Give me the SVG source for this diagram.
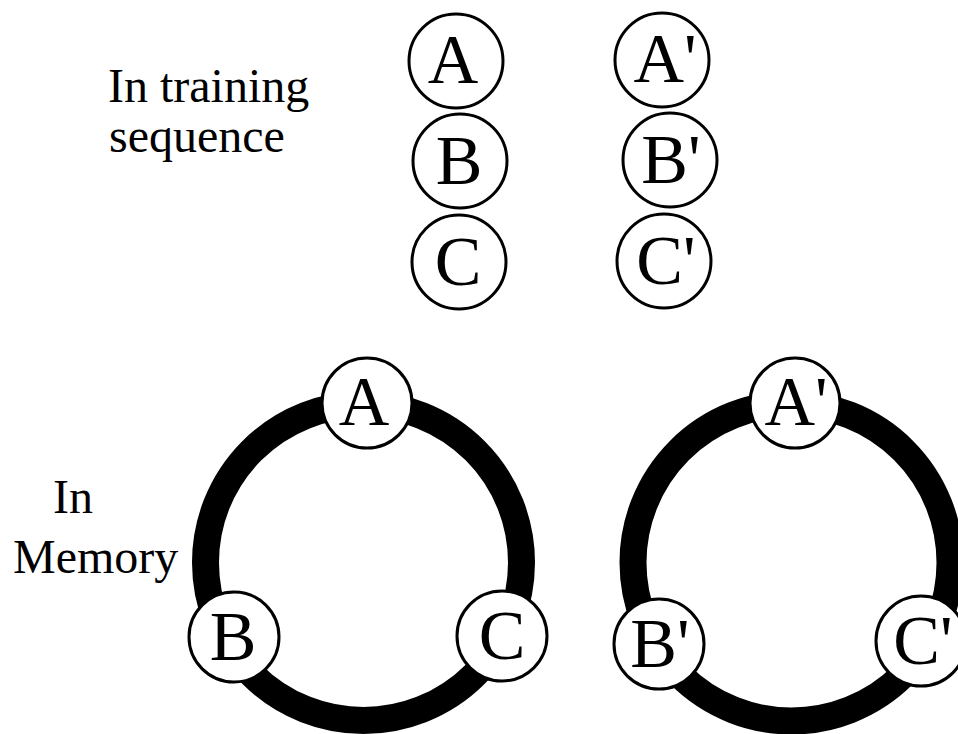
<svg xmlns="http://www.w3.org/2000/svg" width="958" height="734" viewBox="0 0 958 734">
<style>
.bg{fill:#fff}
.node{fill:#fff;stroke:#000;stroke-width:3}
.ring{fill:none;stroke:#000;stroke-width:27}
.lbl{font-family:"Liberation Serif","Times New Roman",serif;font-size:70px;fill:#000;text-anchor:middle}
.cap{font-family:"Liberation Serif","Times New Roman",serif;font-size:48px;fill:#000}
</style>
<rect class="bg" x="0" y="0" width="958" height="734"/>
<g id="captions">
<text class="cap" x="108" y="102">In training</text>
<text class="cap" x="109" y="152">sequence</text>
<text class="cap" x="53" y="513">In</text>
<text class="cap" x="13" y="573">Memory</text>
</g>
<g id="connectors">
<circle class="ring" cx="363.5" cy="562.5" r="158"/>
<circle class="ring" cx="791.5" cy="562.5" r="158.5"/>
</g>
<g id="seq-A"><circle class="node" cx="456" cy="61" r="47"/><text class="lbl" x="453" y="83">A</text></g>
<g id="seq-B"><circle class="node" cx="460" cy="161" r="47"/><text class="lbl" x="459" y="184">B</text></g>
<g id="seq-C"><circle class="node" cx="459" cy="262" r="47"/><text class="lbl" x="458" y="285">C</text></g>
<g id="seq-A2"><circle class="node" cx="662" cy="60" r="47"/><text class="lbl" x="665" y="82">A'</text></g>
<g id="seq-B2"><circle class="node" cx="670" cy="160" r="47"/><text class="lbl" x="671" y="183">B'</text></g>
<g id="seq-C2"><circle class="node" cx="664" cy="261" r="47"/><text class="lbl" x="666" y="284">C'</text></g>
<g id="mem-A"><circle class="node" cx="367" cy="403" r="45"/><text class="lbl" x="364" y="425">A</text></g>
<g id="mem-B"><circle class="node" cx="234" cy="637" r="45"/><text class="lbl" x="233" y="660">B</text></g>
<g id="mem-C"><circle class="node" cx="502" cy="636" r="45"/><text class="lbl" x="502" y="659">C</text></g>
<g id="mem-A2"><circle class="node" cx="795" cy="403" r="45"/><text class="lbl" x="796" y="425">A'</text></g>
<g id="mem-B2"><circle class="node" cx="659" cy="644" r="45"/><text class="lbl" x="660" y="667">B'</text></g>
<g id="mem-C2"><circle class="node" cx="921" cy="641" r="45"/><text class="lbl" x="923" y="664">C'</text></g>
</svg>
